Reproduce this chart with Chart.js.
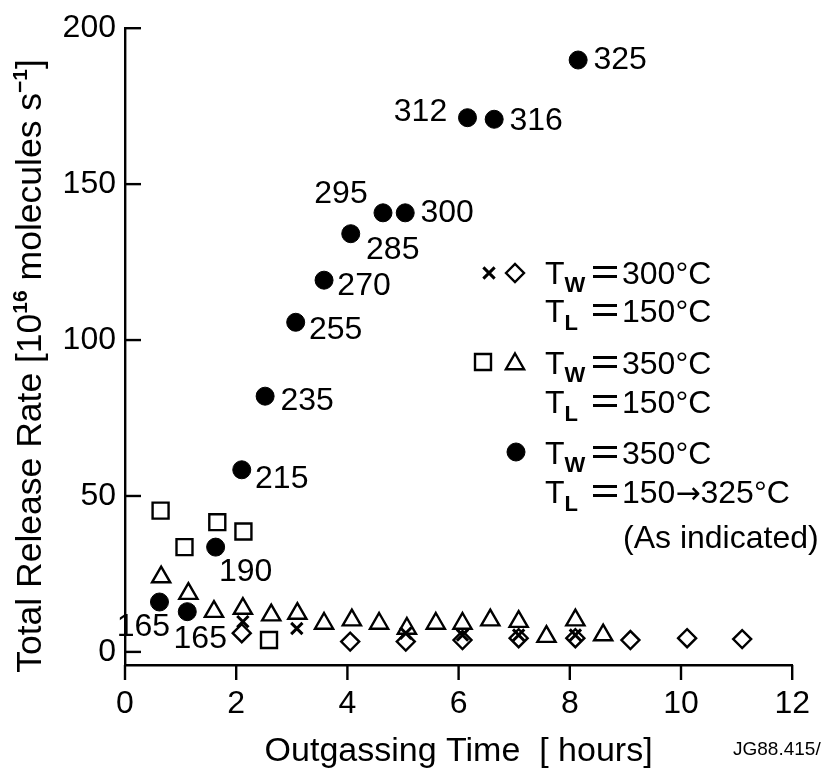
<!DOCTYPE html>
<html>
<head>
<meta charset="utf-8">
<script src="https://cdn.jsdelivr.net/npm/chart.js@4.4.1/dist/chart.umd.min.js"></script>
<style>
  html, body { margin: 0; padding: 0; background: #fff; }
  #wrap { width: 830px; height: 771px; }
</style>
</head>
<body>
<div id="wrap"><canvas id="chart"></canvas></div>
<script>
const FONT = '"Liberation Sans", Arial, Helvetica, sans-serif';

// outgassing time [hours] / total release rate [1e16 molecules/s]
const circleX = [0.62, 1.12, 1.63, 2.10, 2.52, 3.07, 3.58, 4.06, 4.64, 5.04, 6.16, 6.64, 8.15];
const circleY = [16.0, 12.9, 33.6, 58.4, 82.0, 105.7, 119.2, 134.1, 140.8, 140.8, 171.3, 170.8, 189.8];
const circleTemps = ['165', '165', '190', '215', '235', '255', '270', '285', '295', '300', '312', '316', '325'];

const squareX = [0.64, 1.07, 1.66, 2.13, 2.59];
const squareY = [45.3, 33.6, 41.6, 38.6, 3.8];

const triangleX = [0.65, 1.14, 1.60, 2.12, 2.63, 3.10, 3.58, 4.08, 4.57, 5.07, 5.59, 6.07, 6.57, 7.08, 7.58, 8.10, 8.60];
const triangleY = [24.0, 18.7, 12.9, 13.9, 11.8, 12.3, 9.1, 10.2, 9.1, 7.5, 9.1, 9.1, 10.2, 9.7, 4.9, 10.2, 5.4];

const diamondX = [2.10, 4.05, 5.05, 6.07, 7.08, 8.10, 9.09, 10.11, 11.10];
const diamondY = [6.0, 3.3, 3.3, 3.8, 4.4, 4.4, 3.8, 4.4, 4.1];

const crossX = [2.12, 3.09, 5.05, 6.07, 7.08, 8.10];
const crossY = [9.7, 7.5, 6.0, 5.4, 5.4, 5.4];

const xTicks = [0, 2, 4, 6, 8, 10, 12];
const yTicks = [0, 50, 100, 150, 200];

// where each temperature label sits relative to its dot (px)
const tempLabelOffsets = [
    [-16, 25], [13, 27], [30, 25], [40, 9], [42, 5], [40, 8], [40, 6],
    [42, 16], [-42, -19], [42, 0], [-47, -6], [42, 2], [42, 0]
];

const toPoints = (xs, ys) => xs.map((x, i) => ({ x: x, y: ys[i] }));

const STYLES = {
    circle:   { pointStyle: 'circle',   radius: 9,    fill: '#000',          width: 1 },
    square:   { pointStyle: 'rect',     radius: 11.3, fill: 'rgba(0,0,0,0)', width: 2.4 },
    triangle: { pointStyle: 'triangle', radius: 10.5, fill: 'rgba(0,0,0,0)', width: 2.4 },
    diamond:  { pointStyle: 'rectRot',  radius: 9,    fill: 'rgba(0,0,0,0)', width: 2.4 },
    cross:    { pointStyle: 'crossRot', radius: 8,    fill: 'rgba(0,0,0,0)', width: 3 }
};

function makeSet(label, data, st) {
    return {
        label: label,
        data: data,
        pointStyle: st.pointStyle,
        pointRadius: st.radius,
        pointHoverRadius: st.radius,
        pointBackgroundColor: st.fill,
        pointBorderColor: '#000',
        pointBorderWidth: st.width,
        showLine: false
    };
}

function drawMarker(ctx, st, x, y) {
    ctx.save();
    ctx.fillStyle = st.fill;
    ctx.strokeStyle = '#000';
    ctx.lineWidth = st.width;
    Chart.helpers.drawPoint(ctx, { pointStyle: st.pointStyle, radius: st.radius, rotation: 0, borderWidth: st.width }, x, y);
    ctx.restore();
}

// text made of pieces: [text, size, dy, bold, family]
function pieces(ctx, parts, x, y) {
    let cx = x;
    parts.forEach(p => {
        ctx.font = (p[3] ? 'bold ' : '') + p[1] + 'px ' + (p[4] || FONT);
        ctx.fillText(p[0], cx, y + p[2]);
        cx += ctx.measureText(p[0]).width;
    });
    return cx;
}
function piecesWidth(ctx, parts) {
    let w = 0;
    parts.forEach(p => {
        ctx.font = (p[3] ? 'bold ' : '') + p[1] + 'px ' + (p[4] || FONT);
        w += ctx.measureText(p[0]).width;
    });
    return w;
}

const decorPlugin = {
    id: 'decor',
    afterDraw(chart) {
        const ctx = chart.ctx;
        const xs = chart.scales.x, ys = chart.scales.y;
        const area = chart.chartArea;
        ctx.save();
        ctx.strokeStyle = '#000';
        ctx.fillStyle = '#000';
        ctx.lineWidth = 2.4;

        // tick marks: y inward, x downward
        yTicks.forEach(v => {
            const py = ys.getPixelForValue(v);
            ctx.beginPath();
            ctx.moveTo(area.left, py);
            ctx.lineTo(area.left + 16, py);
            ctx.stroke();
        });
        xTicks.forEach(v => {
            const px = xs.getPixelForValue(v);
            ctx.beginPath();
            ctx.moveTo(px, area.bottom);
            ctx.lineTo(px, area.bottom + 15);
            ctx.stroke();
        });

        // temperature labels next to the filled dots
        const meta = chart.getDatasetMeta(0);
        ctx.font = '32px ' + FONT;
        ctx.textAlign = 'center';
        ctx.textBaseline = 'middle';
        meta.data.forEach((el, i) => {
            const off = tempLabelOffsets[i];
            ctx.fillText(circleTemps[i], el.x + off[0], el.y + off[1]);
        });

        // legend
        ctx.textAlign = 'left';
        ctx.textBaseline = 'alphabetic';
        drawMarker(ctx, STYLES.cross, 489, 273);
        drawMarker(ctx, STYLES.diamond, 515, 273);
        drawMarker(ctx, STYLES.square, 483, 362);
        drawMarker(ctx, STYLES.triangle, 515, 364);
        drawMarker(ctx, STYLES.circle, 516, 452);

        const ARROW = '"DejaVu Sans", sans-serif';
        const rows = [
            ['W', [['300°C', 32, 0, false]], 272],
            ['L', [['150°C', 32, 0, false]], 310],
            ['W', [['350°C', 32, 0, false]], 362],
            ['L', [['150°C', 32, 0, false]], 401],
            ['W', [['350°C', 32, 0, false]], 452],
            ['L', [['150', 32, 0, false], ['→', 30, 0, false, ARROW], ['325°C', 32, 0, false]], 491]
        ];
        rows.forEach(r => {
            const base = r[2] + 11.5;
            pieces(ctx, [['T', 32, 0, false], [r[0], 22, 8, true]], 545, base);
            ctx.lineWidth = 3;
            [-4.5, 4.5].forEach(d => {
                ctx.beginPath();
                ctx.moveTo(593, r[2] + d);
                ctx.lineTo(617, r[2] + d);
                ctx.stroke();
            });
            pieces(ctx, r[1], 622, base);
        });
        ctx.font = '32px ' + FONT;
        ctx.fillText('(As indicated)', 623, 548);

        // axis titles
        ctx.font = '34px ' + FONT;
        ctx.textAlign = 'center';
        ctx.fillText('Outgassing Time  [ hours]', (area.left + area.right) / 2, 761);

        const yTitle = [
            ['Total Release Rate [10', 35.5, 0, false],
            ['16', 21, -14, true],
            [' molecules s', 35.5, 0, false],
            ['−1', 21, -14, true],
            [']', 35.5, 0, false]
        ];
        ctx.save();
        ctx.translate(41, 366);
        ctx.rotate(-Math.PI / 2);
        ctx.textAlign = 'left';
        const w = piecesWidth(ctx, yTitle);
        pieces(ctx, yTitle, -w / 2, 0);
        ctx.restore();

        // figure code
        ctx.font = '19px ' + FONT;
        ctx.textAlign = 'left';
        ctx.fillText('JG88.415/', 733, 755);
        ctx.restore();
    }
};

new Chart(document.getElementById('chart'), {
    type: 'scatter',
    data: {
        datasets: [
            makeSet('Tw 350 TL 150-325', toPoints(circleX, circleY), STYLES.circle),
            makeSet('Tw 350 TL 150 (a)', toPoints(squareX, squareY), STYLES.square),
            makeSet('Tw 350 TL 150 (b)', toPoints(triangleX, triangleY), STYLES.triangle),
            makeSet('Tw 300 TL 150 (a)', toPoints(diamondX, diamondY), STYLES.diamond),
            makeSet('Tw 300 TL 150 (b)', toPoints(crossX, crossY), STYLES.cross)
        ]
    },
    options: {
        responsive: true,
        maintainAspectRatio: false,
        animation: false,
        events: [],
        layout: { padding: { left: 0, right: 18, top: 22, bottom: 0 } },
        plugins: { legend: { display: false }, tooltip: { enabled: false } },
        scales: {
            x: {
                type: 'linear',
                min: 0,
                max: 12,
                afterBuildTicks: s => { s.ticks = xTicks.map(v => ({ value: v })); },
                afterFit: s => { s.height = 106; },
                grid: { display: false, drawTicks: false },
                border: { display: true, color: '#000', width: 2.4 },
                ticks: { color: '#000', padding: 20, font: { family: FONT, size: 32 }, maxRotation: 0 }
            },
            y: {
                type: 'linear',
                min: -4.2,
                max: 200,
                afterBuildTicks: s => { s.ticks = yTicks.map(v => ({ value: v })); },
                afterFit: s => { s.width = 125; },
                grid: { display: false, drawTicks: false },
                border: { display: true, color: '#000', width: 2.4 },
                ticks: { color: '#000', padding: 9, font: { family: FONT, size: 32 } }
            }
        }
    },
    plugins: [decorPlugin]
});
</script>
</body>
</html>
